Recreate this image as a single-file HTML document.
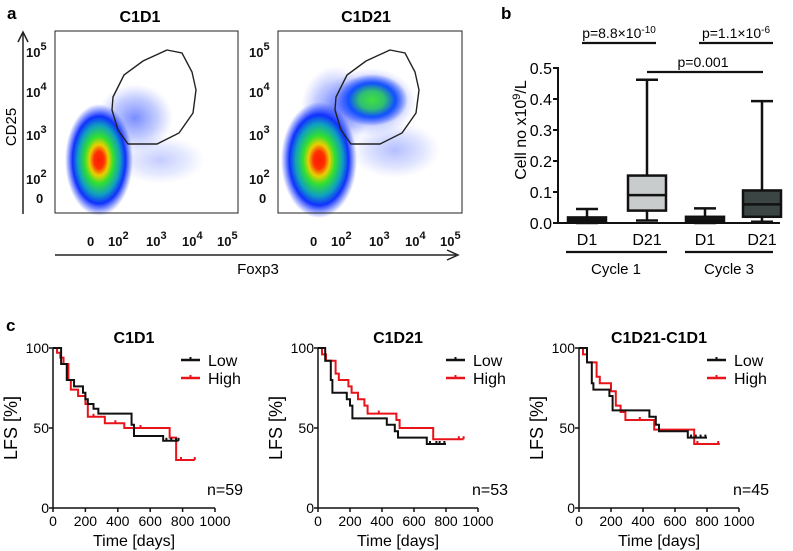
<!DOCTYPE html>
<html><head><meta charset="utf-8"><style>
html,body{margin:0;padding:0;background:#fff;}
svg{display:block;font-family:"Liberation Sans",Arial,sans-serif;}
</style></head><body>
<svg id="fig" width="793" height="551" viewBox="0 0 793 551">
<defs>
<radialGradient id="gCore" cx="50%" cy="50%" r="50%">
<stop offset="0" stop-color="#ff1a00"/><stop offset="0.15" stop-color="#ff3000"/><stop offset="0.28" stop-color="#e8d000"/><stop offset="0.42" stop-color="#30e030"/><stop offset="0.62" stop-color="#10a0c0"/><stop offset="0.78" stop-color="#1030ff"/><stop offset="1" stop-color="#2040ff" stop-opacity="0"/>
</radialGradient>
<radialGradient id="gGreen" cx="50%" cy="50%" r="50%">
<stop offset="0" stop-color="#40e040"/><stop offset="0.35" stop-color="#30c070"/><stop offset="0.65" stop-color="#1050ff"/><stop offset="1" stop-color="#2040ff" stop-opacity="0"/>
</radialGradient>
<radialGradient id="gBlue" cx="50%" cy="50%" r="50%">
<stop offset="0" stop-color="#2040ff" stop-opacity="0.75"/><stop offset="0.6" stop-color="#3050ff" stop-opacity="0.35"/><stop offset="1" stop-color="#6070ff" stop-opacity="0"/>
</radialGradient>
</defs>

<!-- Panel a -->
<text x="7" y="19" font-size="17" font-weight="bold">a</text>
<text x="140" y="22" font-size="16" font-weight="bold" text-anchor="middle">C1D1</text>
<text x="366" y="22" font-size="16" font-weight="bold" text-anchor="middle">C1D21</text>
<g id="flow1">
<ellipse cx="135" cy="118" rx="38" ry="34" fill="url(#gBlue)" opacity="0.8"/>
<ellipse cx="160" cy="160" rx="45" ry="24" fill="url(#gBlue)" opacity="0.35"/>
<ellipse cx="99" cy="160" rx="34" ry="56" fill="url(#gCore)"/>
<rect x="55" y="31" width="183" height="182" fill="none" stroke="#222" stroke-width="1"/>
<polygon points="167,50 182,53 192,72 196,90 193,113 179,133 157,144 128,144 118,130 112,110 113,97 124,75 143,61" fill="none" stroke="#222" stroke-width="1.4"/>
</g>
<g id="flow2">
<ellipse cx="335" cy="110" rx="34" ry="44" fill="url(#gBlue)" opacity="0.85"/>
<ellipse cx="370" cy="102" rx="46" ry="34" fill="url(#gBlue)"/>
<ellipse cx="372" cy="100" rx="36" ry="26" fill="url(#gGreen)"/>
<ellipse cx="395" cy="150" rx="45" ry="28" fill="url(#gBlue)" opacity="0.45"/>
<ellipse cx="319" cy="160" rx="38" ry="58" fill="url(#gCore)"/>
<rect x="278" y="31" width="184" height="182" fill="none" stroke="#222" stroke-width="1"/>
<polygon points="390,50 405,53 415,72 419,90 416,113 402,133 380,144 351,144 341,130 335,110 336,97 347,75 366,61" fill="none" stroke="#222" stroke-width="1.4"/>
</g>
<g font-size="13" font-weight="bold" fill="#111">
<text x="26" y="57">10<tspan dy="-7" font-size="11">5</tspan></text>
<text x="26" y="97">10<tspan dy="-7" font-size="11">4</tspan></text>
<text x="26" y="140">10<tspan dy="-7" font-size="11">3</tspan></text>
<text x="26" y="184">10<tspan dy="-7" font-size="11">2</tspan></text>
<text x="36" y="203">0</text>
<text x="249" y="57">10<tspan dy="-7" font-size="11">5</tspan></text>
<text x="249" y="97">10<tspan dy="-7" font-size="11">4</tspan></text>
<text x="249" y="140">10<tspan dy="-7" font-size="11">3</tspan></text>
<text x="249" y="184">10<tspan dy="-7" font-size="11">2</tspan></text>
<text x="259" y="203">0</text>
</g>
<g font-size="13" font-weight="bold" fill="#111">
<text x="87" y="246">0</text>
<text x="108" y="246">10<tspan dy="-7" font-size="11">2</tspan></text>
<text x="146" y="246">10<tspan dy="-7" font-size="11">3</tspan></text>
<text x="182" y="246">10<tspan dy="-7" font-size="11">4</tspan></text>
<text x="217" y="246">10<tspan dy="-7" font-size="11">5</tspan></text>
<text x="310" y="246">0</text>
<text x="331" y="246">10<tspan dy="-7" font-size="11">2</tspan></text>
<text x="369" y="246">10<tspan dy="-7" font-size="11">3</tspan></text>
<text x="405" y="246">10<tspan dy="-7" font-size="11">4</tspan></text>
<text x="440" y="246">10<tspan dy="-7" font-size="11">5</tspan></text>
</g>
<g stroke="#222" stroke-width="1.5" fill="none">
<line x1="23" y1="214" x2="23" y2="33"/><polyline points="18,42 23,32 28,42"/>
<line x1="55" y1="255" x2="456" y2="255"/><polyline points="447,250 458,255 447,260"/>
</g>
<text x="258" y="274" font-size="15" text-anchor="middle">Foxp3</text>
<text transform="translate(16,127) rotate(-90)" font-size="15" text-anchor="middle">CD25</text>

<!-- Panel b -->
<text x="501" y="19" font-size="17" font-weight="bold">b</text>
<g id="boxplot"></g>

<!-- Panel c -->
<text x="6" y="331" font-size="17" font-weight="bold">c</text>
<g id="km"></g>
</svg>
<script>
// ---- Box plot data ----
const boxCategories = ["D1", "D21", "D1", "D21"];
const boxMin = [0.0, 0.008, 0.0, 0.004];
const boxQ1 = [0.004, 0.040, 0.004, 0.020];
const boxMedian = [0.010, 0.090, 0.010, 0.060];
const boxQ3 = [0.018, 0.153, 0.020, 0.105];
const boxMax = [0.045, 0.462, 0.047, 0.393];
const boxTicks = [0.0, 0.1, 0.2, 0.3, 0.4, 0.5];
const boxFills = ["#222", "#c9cccc", "#222", "#3a4544"];

// ---- KM data ----
const kmTitles = ["C1D1", "C1D21", "C1D21-C1D1"];
const kmN = ["n=59", "n=53", "n=45"];
const kmTicksX = [0, 200, 400, 600, 800, 1000];
const kmTicksY = [0, 50, 100];
const lowTimes = [
 [0, 50, 85, 130, 185, 200, 215, 250, 280, 485, 500, 680, 775],
 [0, 45, 80, 90, 180, 200, 215, 430, 480, 500, 680, 800],
 [0, 50, 80, 90, 190, 210, 440, 480, 500, 680, 800]
];
const lowSurv = [
 [100, 90, 80, 76, 72, 68, 65, 62, 59, 52, 45, 42, 42],
 [100, 92, 80, 72, 68, 64, 56, 52, 48, 44, 40, 40],
 [100, 91, 78, 74, 70, 61, 57, 52, 48, 44, 44]
];
const lowCensor = [[700, 730, 760, 775], [700, 740, 760, 790], [700, 730, 760, 790]];
const highTimes = [
 [0, 25, 45, 65, 95, 110, 155, 200, 215, 320, 440, 720, 760, 875],
 [0, 25, 50, 110, 130, 190, 210, 250, 290, 310, 490, 510, 720, 910],
 [0, 25, 50, 110, 130, 200, 230, 260, 290, 470, 720, 880]
];
const highSurv = [
 [100, 97, 94, 90, 80, 74, 70, 65, 57, 53, 50, 44, 30, 30],
 [100, 96, 92, 84, 80, 76, 72, 68, 64, 59, 55, 50, 43, 43],
 [100, 96, 91, 82, 78, 73, 64, 60, 55, 49, 40, 40]
];
const highCensor = [[250, 385, 540, 790, 875], [380, 880, 910], [380, 740, 870]];

const NS = "http://www.w3.org/2000/svg";
function mk(parent, tag, attrs, text) {
  const e = document.createElementNS(NS, tag);
  for (const k in attrs) e.setAttribute(k, attrs[k]);
  if (text !== undefined) e.textContent = text;
  parent.appendChild(e);
  return e;
}

// ---- Box plot drawing ----
(function () {
  const g = document.getElementById("boxplot");
  const yS = v => 223 - v * 310;
  const xC = [587, 647, 705, 762];
  const axis = mk(g, "g", {stroke: "#111", "stroke-width": 2});
  
  
  mk(axis, "line", {x1: 558, y1: yS(0.5) - 1, x2: 558, y2: yS(0) + 1});
  mk(axis, "line", {x1: 558, y1: yS(0), x2: 780, y2: yS(0)});
  boxTicks.forEach(t => {
    mk(axis, "line", {x1: 553, y1: yS(t), x2: 558, y2: yS(t)});
    const tx = mk(g, "text", {x: 552, y: yS(t) + 6, "font-size": 16, "text-anchor": "end"}, t.toFixed(1));
    
    
  });
  boxCategories.forEach((c, i) => {
    const x = xC[i];
    const bg = mk(g, "g", {stroke: "#111", "stroke-width": 2.5, fill: "none"});
    
    
    mk(bg, "line", {x1: x, y1: yS(boxMax[i]), x2: x, y2: yS(boxMin[i])});
    mk(bg, "line", {x1: x - 11, y1: yS(boxMax[i]), x2: x + 11, y2: yS(boxMax[i])});
    mk(bg, "line", {x1: x - 11, y1: yS(boxMin[i]), x2: x + 11, y2: yS(boxMin[i])});
    mk(bg, "rect", {x: x - 19, y: yS(boxQ3[i]), width: 38, height: Math.max(yS(boxQ1[i]) - yS(boxQ3[i]), 1), fill: boxFills[i]});
    mk(bg, "line", {x1: x - 19, y1: yS(boxMedian[i]), x2: x + 19, y2: yS(boxMedian[i])});
    const lb = mk(g, "text", {x: x, y: 245, "font-size": 16, "text-anchor": "middle"}, c);
    
    
  });
  const lines = mk(g, "g", {stroke: "#111", "stroke-width": 2.2});
  
  
  mk(lines, "line", {x1: 566, y1: 252, x2: 667, y2: 252});
  mk(lines, "line", {x1: 685, y1: 252, x2: 773, y2: 252});
  mk(lines, "line", {x1: 582, y1: 43, x2: 656, y2: 43});
  mk(lines, "line", {x1: 699, y1: 43, x2: 773, y2: 43});
  mk(lines, "line", {x1: 647, y1: 72, x2: 763, y2: 72});
  const c1 = mk(g, "text", {x: 616, y: 274, "font-size": 15, "text-anchor": "middle"}, "Cycle 1");
   
  const c3 = mk(g, "text", {x: 729, y: 274, "font-size": 15, "text-anchor": "middle"}, "Cycle 3");
   
  const p1 = mk(g, "text", {x: 619, y: 38, "font-size": 14, "text-anchor": "middle"});
  p1.innerHTML = 'p=8.8×10<tspan dy="-5" font-size="10">-10</tspan>';
   
  const p2 = mk(g, "text", {x: 736, y: 38, "font-size": 14, "text-anchor": "middle"});
  p2.innerHTML = 'p=1.1×10<tspan dy="-5" font-size="10">-6</tspan>';
   
  const p3 = mk(g, "text", {x: 703, y: 67, "font-size": 14, "text-anchor": "middle"}, "p=0.001");
   
  const yt = mk(g, "text", {transform: "translate(526,130) rotate(-90)", "font-size": 16, "text-anchor": "middle"});
  yt.innerHTML = 'Cell no x10<tspan dy="-6" font-size="11">9</tspan><tspan dy="6">/L</tspan>';
   
})();

// ---- KM drawing ----
(function () {
  const root = document.getElementById("km");
  const panels = [{x0: 53, x1: 215}, {x0: 318, x1: 478}, {x0: 579, x1: 739}];
  const yTop = 348, yBot = 508;
  panels.forEach((p, k) => {
    const g = mk(root, "g", {});
    
    
    const xS = d => p.x0 + d / 1000 * (p.x1 - p.x0);
    const yS = s => yBot - s / 100 * (yBot - yTop);
    const cx = (p.x0 + p.x1) / 2;
    const t = mk(g, "text", {x: cx, y: 343, "font-size": 16, "font-weight": "bold", "text-anchor": "middle"}, kmTitles[k]);
     
    const ax = mk(g, "g", {stroke: "#111", "stroke-width": 1.5});
     
    mk(ax, "line", {x1: p.x0, y1: yTop, x2: p.x0, y2: yBot});
    mk(ax, "line", {x1: p.x0, y1: yBot, x2: p.x1, y2: yBot});
    kmTicksY.forEach(v => {
      mk(ax, "line", {x1: p.x0 - 4, y1: yS(v), x2: p.x0, y2: yS(v)});
      const l = mk(g, "text", {x: p.x0 - 4, y: yS(v) + 5, "font-size": 14, "text-anchor": "end"}, String(v));
       
    });
    kmTicksX.forEach(v => {
      mk(ax, "line", {x1: xS(v), y1: yBot, x2: xS(v), y2: yBot + 4});
      const l = mk(g, "text", {x: xS(v), y: 526, "font-size": 14, "text-anchor": "middle"}, String(v));
       
    });
    const xt = mk(g, "text", {x: cx, y: 546, "font-size": 16, "text-anchor": "middle"}, "Time [days]");
     
    const yt = mk(g, "text", {transform: "translate(" + (p.x0 - 36) + ",428) rotate(-90)", "font-size": 18, "text-anchor": "middle"}, "LFS [%]");
     
    const n = mk(g, "text", {x: p.x0 + 190, y: 495, "font-size": 16, "text-anchor": "end"}, kmN[k]);
     

    function series(times, surv, cens, color, name) {
      const sg = mk(g, "g", {});
      
      
      let d = "M" + xS(times[0]) + "," + yS(surv[0]);
      for (let i = 1; i < times.length; i++) {
        d += " H" + xS(times[i]) + " V" + yS(surv[i]);
      }
      mk(sg, "path", {d: d, fill: "none", stroke: color, "stroke-width": 2});
      cens.forEach(c => {
        let s = surv[0];
        for (let i = 0; i < times.length; i++) if (times[i] <= c) s = surv[i];
        mk(sg, "line", {x1: xS(c), y1: yS(s) - 3, x2: xS(c), y2: yS(s), stroke: color, "stroke-width": 2});
      });
    }
    series(highTimes[k], highSurv[k], highCensor[k], "#e8141a", "km-high-line");
    series(lowTimes[k], lowSurv[k], lowCensor[k], "#111", "km-low-line");

    const lg = mk(g, "g", {});
     
    const lx = p.x0 + 128;
    mk(lg, "line", {x1: lx, y1: 360, x2: lx + 19, y2: 360, stroke: "#111", "stroke-width": 2.5});
    mk(lg, "line", {x1: lx + 9.5, y1: 357, x2: lx + 9.5, y2: 360, stroke: "#111", "stroke-width": 2});
    mk(lg, "line", {x1: lx, y1: 378, x2: lx + 19, y2: 378, stroke: "#e8141a", "stroke-width": 2.5});
    mk(lg, "line", {x1: lx + 9.5, y1: 375, x2: lx + 9.5, y2: 378, stroke: "#e8141a", "stroke-width": 2});
    mk(lg, "text", {x: lx + 27, y: 366, "font-size": 16}, "Low");
    mk(lg, "text", {x: lx + 27, y: 384, "font-size": 16}, "High");
  });
})();
</script>
</body></html>
